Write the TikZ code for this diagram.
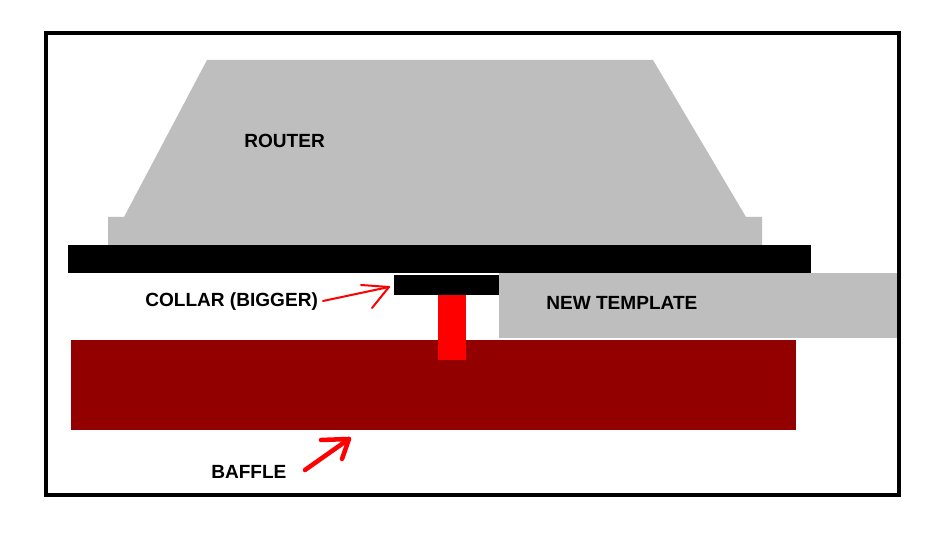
\documentclass[tikz,border=0pt]{standalone}
\usepackage{fontspec}
\setmainfont{Liberation Sans}
\definecolor{dither}{HTML}{BEBEBE}
\definecolor{baffle}{HTML}{920000}
\definecolor{pen}{HTML}{FF0000}
\tikzset{
  frame/.style={draw=black,line width=3pt,fill=white},
  dithered/.style={fill=dither},
  solidblack/.style={fill=black},
  label/.style={font=\bfseries\fontsize{14.3}{16}\selectfont,text=black,inner sep=0pt,anchor=base west},
  thinpen/.style={draw=pen,line width=1.5pt,line cap=round,line join=round},
  thickpen/.style={draw=pen,line width=3.4pt,line cap=round,line join=round}
}
\begin{document}
\begin{tikzpicture}[x=0.75pt,y=-0.75pt]
\useasboundingbox (0,0) rectangle (940,534);
\fill[white] (0,0) rectangle (940,534);
\draw[frame] (46,33) rectangle (899,495);
% router
\fill[dithered] (207,60) -- (653,60) -- (746,217) -- (762,217) -- (762,245) -- (108,245) -- (108,217) -- (124,217) -- cycle;
% plate
\fill[solidblack] (68,245) rectangle (811,273);
% template
\fill[dithered] (499,273) rectangle (897,338);
% baffle
\fill[baffle] (71,340) rectangle (796,430);
% collar
\fill[solidblack] (394,275) rectangle (499,295);
% bit
\fill[pen] (438,295) rectangle (466,360);
% labels
\node[label] (router) at (244,148) {ROUTER};
\node[label] (template) at (546,310) {NEW TEMPLATE};
\node[label] (collar) at (145,307) {COLLAR (BIGGER)};
\node[label] (baffletext) at (211,479) {BAFFLE};
% arrows
\coordinate (ctail) at (323,301);
\coordinate (ctip) at (389,287);
\coordinate (btail) at (305,470);
\coordinate (btip) at (349,439);
\draw[thinpen] (ctail) -- (ctip);
\draw[thinpen] (361,285) -- (ctip) -- (372,308);
\draw[thickpen] (btail) -- (btip);
\draw[thickpen] (321,440) -- (btip) -- (342,459);
\end{tikzpicture}
\end{document}
